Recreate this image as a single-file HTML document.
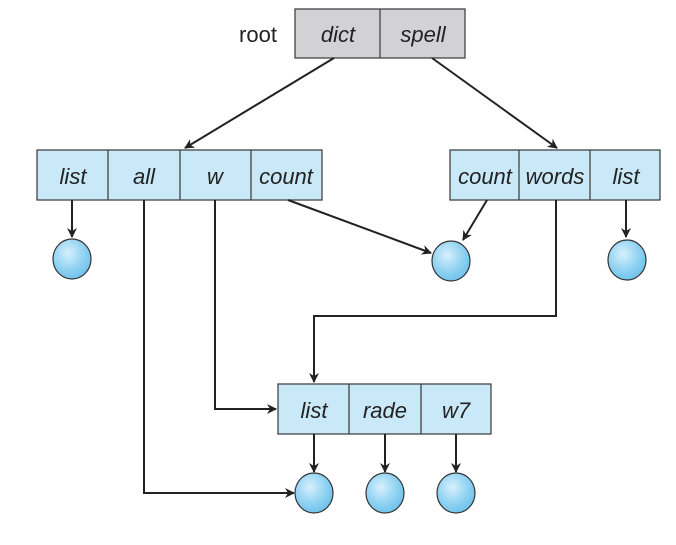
<!DOCTYPE html>
<html><head><style>body{margin:0;background:#fff}</style></head><body>
<svg width="676" height="540" viewBox="0 0 676 540" xmlns="http://www.w3.org/2000/svg">
<defs>
<marker id="a" markerWidth="10" markerHeight="10" refX="9" refY="5" orient="auto" markerUnits="userSpaceOnUse"><path d="M0,0 L10,5 L0,10 L3,5 Z" fill="#222"/></marker>
<radialGradient id="g" cx="0.4" cy="0.35" r="0.7"><stop offset="0" stop-color="#d8f0fc"/><stop offset="0.6" stop-color="#8fd2f2"/><stop offset="1" stop-color="#6cc0ea"/></radialGradient>
</defs>
<g font-family="Liberation Sans, sans-serif" font-size="22" font-style="italic" fill="#222" text-anchor="middle">
<text x="258" y="42" font-style="normal">root</text>
<rect x="295" y="9" width="170" height="49" fill="#d2d2d4" stroke="#444" stroke-width="1.3"/>
<line x1="380" y1="9" x2="380" y2="58" stroke="#444" stroke-width="1.3"/>
<text x="338" y="42">dict</text><text x="423" y="42">spell</text>

<rect x="37" y="150" width="285" height="50" fill="#c9e9f8" stroke="#444" stroke-width="1.3"/>
<path d="M108 150V200M180 150V200M251 150V200" stroke="#444" stroke-width="1.3"/>
<text x="73" y="184">list</text><text x="144" y="184">all</text><text x="215" y="184">w</text><text x="286" y="184">count</text>

<rect x="450" y="150" width="210" height="50" fill="#c9e9f8" stroke="#444" stroke-width="1.3"/>
<path d="M519 150V200M590 150V200" stroke="#444" stroke-width="1.3"/>
<text x="485" y="184">count</text><text x="555" y="184">words</text><text x="626" y="184">list</text>

<rect x="278" y="384" width="213" height="50" fill="#c9e9f8" stroke="#444" stroke-width="1.3"/>
<path d="M349 384V434M421 384V434" stroke="#444" stroke-width="1.3"/>
<text x="314" y="418">list</text><text x="385" y="418">rade</text><text x="456" y="418">w7</text>
</g>
<g stroke="#222" stroke-width="2" fill="none" marker-end="url(#a)">
<line x1="334" y1="58" x2="185" y2="148"/>
<line x1="432" y1="58" x2="557" y2="148"/>
<line x1="72" y1="200" x2="72" y2="237"/>
<line x1="626" y1="200" x2="626" y2="237"/>
<line x1="288" y1="200" x2="431" y2="253"/>
<line x1="487" y1="200" x2="463" y2="240"/>
<path d="M556 200V316H314V382"/>
<path d="M215 200V409H276"/>
<path d="M144 200V493H294"/>
<line x1="314" y1="434" x2="314" y2="472"/>
<line x1="385" y1="434" x2="385" y2="472"/>
<line x1="456" y1="434" x2="456" y2="472"/>
</g>
<g fill="url(#g)" stroke="#333" stroke-width="1.2">
<ellipse cx="72" cy="259" rx="19" ry="20"/>
<ellipse cx="451" cy="261" rx="19" ry="20"/>
<ellipse cx="627" cy="260" rx="19" ry="20"/>
<ellipse cx="314" cy="493" rx="19" ry="20"/>
<ellipse cx="385" cy="493" rx="19" ry="20"/>
<ellipse cx="456" cy="493" rx="19" ry="20"/>
</g>
</svg>
</body></html>
